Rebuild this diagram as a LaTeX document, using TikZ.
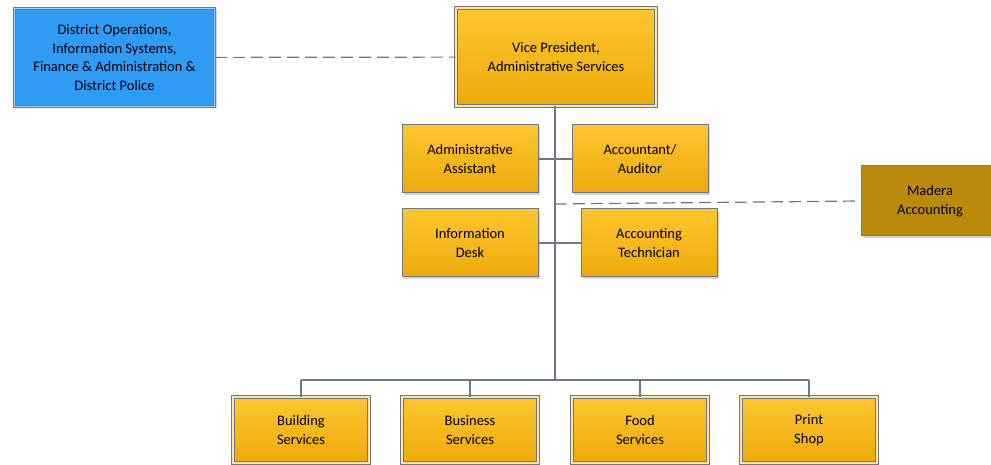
\documentclass[tikz,border=0pt]{standalone}
\usepackage{fontspec}
\setmainfont{Carlito}
\usetikzlibrary{shadows}
\definecolor{boxgold}{HTML}{FDC631}
\definecolor{boxgolddark}{HTML}{EDAA0A}
\definecolor{boxblue}{HTML}{2F9BF4}
\definecolor{boxbrown}{HTML}{BC8A0B}
\definecolor{linegray}{HTML}{6C7889}
\begin{document}
\begin{tikzpicture}[x=1pt,y=-1pt,
    every node/.style={font=\fontsize{14.5}{18.5}\selectfont, align=center, inner sep=0pt, text=black},
    unit/.style={draw=linegray, line width=1pt, top color=boxgold, bottom color=boxgolddark,
        minimum width=136pt, minimum height=68pt,
        drop shadow={opacity=0.35, shadow xshift=2pt, shadow yshift=-2pt}},
    head/.style={unit, double=boxgold!45!white, double distance=1.5pt,
        minimum width=200pt, minimum height=98pt},
    dept/.style={unit, double=boxgold!45!white, double distance=1.2pt},
    link/.style={draw=linegray, line width=1.2pt},
    dotted link/.style={link, dash pattern=on 12pt off 6pt}]
    \useasboundingbox (0,0) rectangle (991,465);

    % top row
    \node[head] (vp) at (556,57) {Vice President,\\Administrative Services};
    \node[head, top color=boxblue, bottom color=boxblue, double=boxblue!45!white] (dist) at (114.5,57.5)
        {District Operations,\\Information Systems,\\Finance \& Administration \&\\District Police};

    % staff around the trunk
    \node[unit] (aa) at (470,159) {Administrative\\Assistant};
    \node[unit] (acc) at (640,159) {Accountant/\\Auditor};
    \node[unit] (info) at (470,243) {Information\\Desk};
    \node[unit] (tech) at (649,243) {Accounting\\Technician};
    \node[unit, top color=boxbrown, bottom color=boxbrown, minimum width=138pt, minimum height=70pt] (mad) at (930,201) {Madera\\Accounting};

    % departments
    \foreach \x/\name/\txt in {301/bld/Building\\Services, 470/bus/Business\\Services,
        640/food/Food\\Services, 809/print/Print\\Shop}
        {\node[dept, minimum height=66pt] (\name) at (\x,430) {\txt};}

    \coordinate (bar) at (555,380);
    \coordinate (tap) at (555,204);

    \draw[dotted link] (dist) -- (vp);
    \draw[link] (vp.south -| bar) -- (bar);
    \draw[link] (aa) -- (acc);
    \draw[link] (info) -- (tech);
    \draw[dotted link] (tap) -- (mad.west);
    \draw[link] (bar -| bld) -- (bar -| print);
    \foreach \name in {bld,bus,food,print}
        {\draw[link] (bar -| \name) -- (\name);}
\end{tikzpicture}
\end{document}
